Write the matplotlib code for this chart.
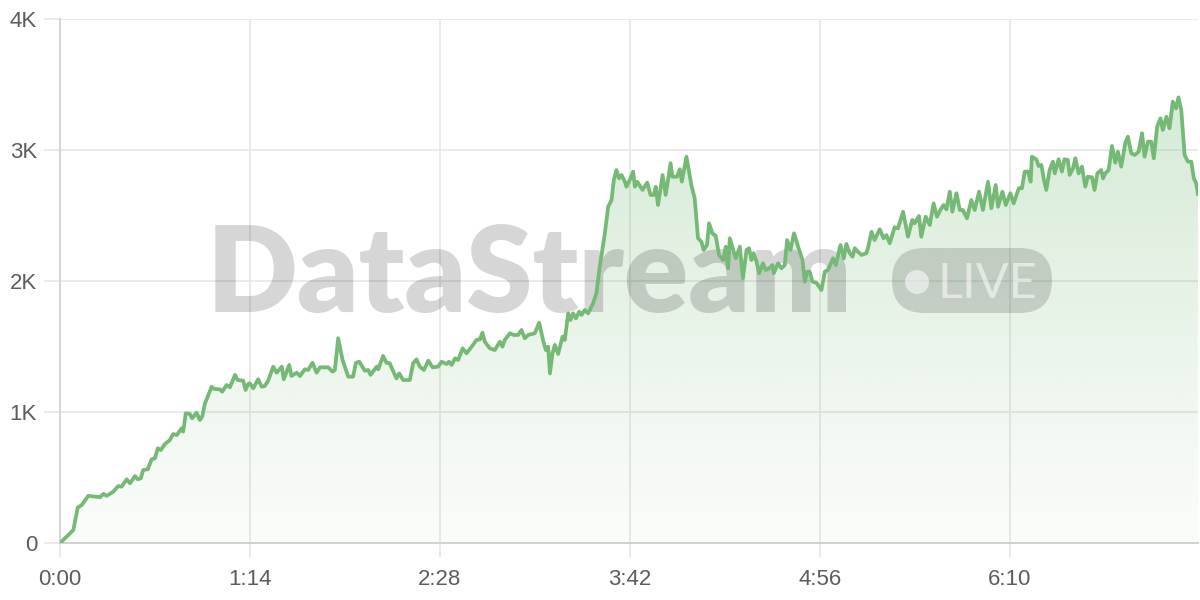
import matplotlib
matplotlib.use("Agg")
import matplotlib.pyplot as plt
import numpy as np
from matplotlib.patches import FancyBboxPatch, Ellipse

# elapsed seconds and viewer count
secs = [0, 3.2, 5.2, 6.9, 8.5, 11.0, 15.6, 16.9, 18.2, 20.8, 22.7, 24.0, 26.0, 27.3, 29.2, 30.3,
        31.5, 32.4, 34.2, 35.7, 37.0, 38.1, 39.3, 40.9, 42.8, 44.1, 45.5, 47.4, 48.0, 49.0, 50.6,
        51.5, 53.2, 54.5, 55.4, 56.5, 59.1, 60.1, 62.3, 63.2, 64.9, 66.2, 68.2, 69.2, 71.4, 72.3,
        73.3, 74.0, 75.3, 77.2, 78.6, 79.8, 81.1, 83.1, 84.4, 86.4, 87.2, 89.3, 90.2, 92.2, 93.5,
        95.4, 96.7, 98.4, 100.0, 101.3, 104.5, 106.2, 107.1, 108.4, 110.1, 112.3, 114.2, 115.3,
        116.6, 118.8, 120.1, 121.0, 123.4, 124.0, 125.9, 127.2, 128.5, 129.6, 131.1, 132.2, 133.7,
        136.3, 137.6, 138.9, 140.2, 141.8, 143.5, 145.2, 147.3, 148.7, 150.6, 151.6, 152.6, 153.9,
        155.1, 156.9, 158.4, 160.4, 162.3, 163.6, 164.6, 165.5, 167.5, 169.4, 171.4, 172.4, 173.3,
        175.3, 176.8, 178.5, 179.8, 181.1, 182.4, 185.0, 186.7, 188.2, 189.3, 190.2, 190.9, 191.9,
        192.8, 194.1, 195.8, 196.7, 198.0, 198.9, 199.9, 201.0, 202.3, 203.2, 204.5, 205.8, 207.7,
        209.0, 210.3, 212.3, 213.6, 214.9, 215.8, 216.8, 217.8, 218.8, 220.1, 220.7, 222.0, 223.3,
        224.0, 224.9, 227.0, 228.8, 230.1, 231.4, 232.1, 233.0, 234.8, 236.0, 237.9, 238.6, 240.4,
        241.5, 242.3, 244.1, 246.0, 247.3, 248.6, 249.9, 250.8, 252.1, 252.9, 254.2, 255.5, 256.8,
        258.4, 259.4, 260.3, 261.0, 262.3, 263.3, 264.9, 266.1, 267.5, 268.5, 269.4, 270.3, 271.4,
        272.4, 273.9, 275.0, 276.3, 277.6, 278.1, 279.8, 281.1, 282.4, 283.3, 284.6, 286.0, 287.6,
        289.3, 290.2, 291.1, 292.1, 293.2, 294.7, 296.7, 298.0, 299.2, 301.2, 302.3, 304.1, 305.4,
        306.4, 307.7, 308.8, 309.7, 310.9, 312.3, 314.2, 314.8, 316.2, 317.4, 319.4, 320.9, 322.0,
        323.3, 325.2, 326.5, 328.5, 330.4, 332.1, 333.0, 334.7, 335.6, 337.3, 338.9, 340.4, 341.7,
        343.0, 344.3, 345.4, 346.7, 347.7, 349.3, 350.6, 351.8, 353.4, 355.1, 356.4, 358.1, 359.6,
        361.6, 362.9, 364.6, 365.5, 367.2, 368.5, 370.3, 371.6, 373.6, 374.8, 375.9, 377.2, 378.2,
        378.7, 380.4, 381.3, 382.4, 383.4, 384.3, 385.6, 386.9, 387.6, 389.1, 390.4, 391.4, 392.7,
        393.4, 394.7, 395.6, 396.9, 398.2, 399.5, 400.5, 402.1, 403.1, 404.2, 405.7, 406.4, 407.3,
        408.6, 409.9, 411.2, 412.2, 413.5, 415.1, 416.1, 417.4, 418.7, 420.3, 421.6, 422.6, 423.9,
        425.2, 426.2, 427.5, 428.8, 429.7, 431.1, 432.3, 433.6, 434.9, 435.8, 436.9, 438.2, 439.5,
        440.8, 441.8, 442.7, 443.4]
viewers = [0, 60, 100, 270, 290, 360, 350, 375, 360, 392, 435, 430, 486, 456, 511, 486,
           494, 557, 563, 639, 647, 723, 710, 756, 786, 832, 824, 876, 850, 990, 985,
           952, 995, 939, 964, 1066, 1193, 1176, 1173, 1155, 1206, 1189, 1283, 1244, 1239, 1168,
           1214, 1219, 1181, 1250, 1193, 1199, 1239, 1346, 1300, 1346, 1250, 1359, 1275, 1300, 1275,
           1326, 1321, 1376, 1300, 1341, 1341, 1308, 1321, 1563, 1397, 1270, 1270, 1376,
           1384, 1315, 1321, 1283, 1346, 1326, 1428, 1376, 1372, 1321, 1257, 1295, 1244,
           1244, 1372, 1402, 1346, 1321, 1392, 1341, 1346, 1384, 1366, 1384, 1359, 1410,
           1397, 1486, 1448, 1499, 1550, 1555, 1605, 1537, 1486, 1473, 1537, 1499, 1550,
           1601, 1588, 1588, 1626, 1563, 1588, 1601, 1682, 1550, 1473, 1499, 1295, 1448,
           1512, 1443, 1575, 1550, 1753, 1702, 1753, 1715, 1766, 1741, 1779, 1753, 1830,
           1906, 2109, 2364, 2567, 2618, 2771, 2847, 2784, 2809, 2758, 2720, 2771, 2835,
           2720, 2758, 2695, 2751, 2657, 2657, 2720, 2580, 2809, 2657, 2899, 2796, 2796,
           2853, 2758, 2949, 2733, 2631, 2326, 2300, 2237, 2275, 2441, 2364, 2344, 2199,
           2160, 2262, 2097, 2326, 2237, 2173, 2262, 2021, 2237, 2250, 2160, 2212, 2147,
           2059, 2135, 2084, 2097, 2122, 2059, 2135, 2097, 2122, 2313, 2237, 2364, 2262,
           2160, 1995, 2071, 2071, 1995, 1987, 1931, 2071, 2084, 2173, 2122, 2275, 2173,
           2283, 2212, 2186, 2250, 2224, 2199, 2212, 2250, 2376, 2313, 2395, 2326, 2351,
           2288, 2410, 2402, 2529, 2338, 2466, 2441, 2496, 2338, 2491, 2428, 2593, 2491,
           2542, 2580, 2547, 2682, 2529, 2670, 2542, 2542, 2479, 2618, 2542, 2682, 2542,
           2758, 2555, 2733, 2567, 2682, 2580, 2670, 2593, 2708, 2708, 2835, 2835, 2758,
           2949, 2929, 2878, 2886, 2771, 2695, 2847, 2911, 2822, 2929, 2835, 2929, 2924,
           2809, 2860, 2937, 2822, 2873, 2720, 2796, 2792, 2695, 2822, 2847, 2784, 2822,
           2847, 3031, 2903, 2987, 2873, 3056, 3102, 2975, 2962, 2987, 3128, 2949, 3064,
           3064, 2937, 3178, 3242, 3153, 3254, 3166, 3369, 3318, 3402, 3305, 2962, 2911,
           2911, 2784, 2746, 2664]

xtick_pos = [0, 74, 148, 222, 296, 370]
xtick_labels = ["0:00", "1:14", "2:28", "3:42", "4:56", "6:10"]
ytick_pos = [0, 1000, 2000, 3000, 4000]
ytick_labels = ["0", "1K", "2K", "3K", "4K"]

line_green = "#74b974"
grid_col = "#e6e6e6"
label_col = "#5c5c5c"

fig = plt.figure(figsize=(12, 6), dpi=100)
ax = fig.add_axes([0.05, 0.095, 0.9483, 0.8733])

x = np.array(secs)
y = np.array(viewers)

# gradient fill under the line: stronger near the top of the plot
fill = ax.fill_between(x, y, 0, facecolor="none", edgecolor="none")
grad = np.zeros((256, 1, 4))
grad[:, 0, 0] = 116 / 255
grad[:, 0, 1] = 185 / 255
grad[:, 0, 2] = 116 / 255
grad[:, 0, 3] = np.linspace(0.34, 0.03, 256)
img = ax.imshow(grad, extent=[0, x[-1], 0, 4000], origin="upper", aspect="auto", zorder=1)
img.set_clip_path(fill.get_paths()[0], transform=ax.transData)
ax.set_xlim(0, x[-1])
ax.set_ylim(0, 4000)

ax.plot(x, y, color=line_green, lw=2.7, zorder=5)

# watermark
ax.text(207 / 1200, 1 - 312 / 600, "DataStream", transform=fig.transFigure,
        fontsize=86, fontweight="heavy", family="Lato", color="black", alpha=0.16,
        ha="left", va="baseline", zorder=3)
badge = FancyBboxPatch((892 / 1200, 1 - 313 / 600), 160 / 1200, 65 / 600,
                       boxstyle="round,pad=0,rounding_size=0.027", transform=fig.transFigure,
                       facecolor="black", edgecolor="none", alpha=0.15, zorder=3,
                       mutation_aspect=2)
ax.add_patch(badge)
ax.add_patch(Ellipse((917 / 1200, 1 - 282 / 600), 24 / 1200, 24 / 600, transform=fig.transFigure,
                     facecolor="white", edgecolor="none", alpha=0.55, zorder=4))
ax.text(937 / 1200, 1 - 298 / 600, "LIVE", transform=fig.transFigure, fontsize=35,
        family="Lato", color="white", alpha=0.55, ha="left", va="baseline", zorder=4)

ax.set_xticks(xtick_pos)
ax.set_xticklabels(xtick_labels)
ax.set_yticks(ytick_pos)
ax.set_yticklabels(ytick_labels)
ax.grid(True, color=grid_col, lw=1.2, zorder=0)
ax.set_axisbelow(True)
ax.tick_params(axis="x", length=10, width=1.2, color=grid_col, pad=9,
               labelsize=16, labelcolor=label_col)
ax.tick_params(axis="y", length=11.5, width=1.2, color=grid_col, pad=5,
               labelsize=16, labelcolor=label_col)
for lab in ax.get_xticklabels() + ax.get_yticklabels():
    lab.set_family("Liberation Sans")

for s in ["top", "right"]:
    ax.spines[s].set_visible(False)
ax.spines["left"].set_color("#d2d2d2")
ax.spines["left"].set_linewidth(1.3)
ax.spines["bottom"].set_color("#cfcfcf")
ax.spines["bottom"].set_linewidth(1.3)

fig.savefig("out.png", dpi=100)
